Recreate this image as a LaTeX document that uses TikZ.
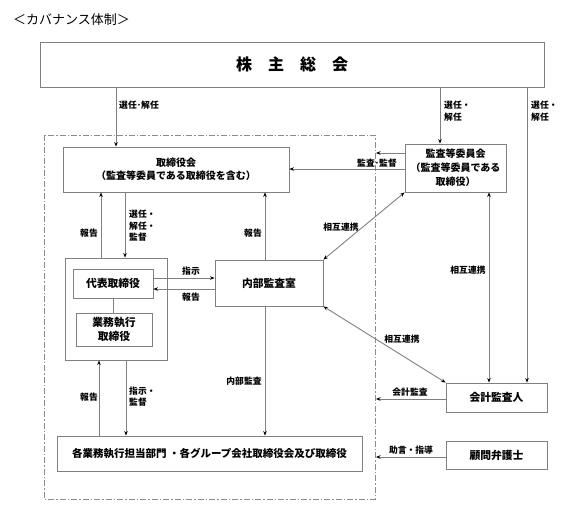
\documentclass[tikz,border=0pt]{standalone}
\usepackage{fontspec}
\setmainfont{Noto Sans CJK JP}
\usetikzlibrary{arrows.meta}
\begin{document}
\begin{tikzpicture}[x=1pt,y=-1pt,
  box/.style={draw=black!50,line width=0.9pt,inner sep=0,align=center,font=\fontsize{10.8}{13.5}\selectfont\bfseries},
  lab/.style={inner sep=0,align=left,font=\fontsize{8.8}{11.5}\selectfont\bfseries},
  conn/.style={draw=black!50,line width=0.9pt},
  tip/.tip={Stealth[length=4.5pt,width=3.6pt,color=black]},
  arr/.style={conn,-tip},
  darr/.style={conn,tip-tip},
  frame/.style={draw=black!45,line width=0.8pt,dash pattern=on 6pt off 2pt on 1.5pt off 2pt}
]
\useasboundingbox (0,0) rectangle (562,515);

\node[anchor=west,inner sep=0,font=\fontsize{13}{15}\selectfont] (title) at (13,20) {＜カバナンス体制＞};

% dashed company boundary
\draw[frame] (44,135) rectangle (375,499);

% boxes
\node[box,minimum width=504pt,minimum height=45pt,font=\fontsize{16}{18}\selectfont\bfseries] (sh) at (292,64.5) {株　主　総　会};
\node[box,minimum width=226pt,minimum height=45pt,font=\fontsize{10}{13}\selectfont\bfseries] (board) at (176,169.5) {取締役会\\（監査等委員である取締役を含む）};
\node[box,minimum width=101pt,minimum height=48pt,font=\fontsize{10}{14}\selectfont\bfseries] (acc) at (455.5,168) {監査等委員会\\（監査等委員である\\取締役）};
\node[box,minimum width=102pt,minimum height=102pt] (grp) at (116,309) {};
\node[box,minimum width=80pt,minimum height=29pt] (rep) at (113,283.5) {代表取締役};
\node[box,minimum width=76pt,minimum height=33pt] (exec) at (114,329.5) {業務執行\\取締役};
\node[box,minimum width=108pt,minimum height=46pt] (ia) at (269,283) {内部監査室};
\node[box,minimum width=101pt,minimum height=29pt] (aud) at (496.5,397.5) {会計監査人};
\node[box,minimum width=101pt,minimum height=28pt] (law) at (496.5,455) {顧問弁護士};
\node[box,minimum width=305pt,minimum height=35pt,font=\fontsize{10.5}{13}\selectfont\bfseries] (dep) at (209.5,453.5) {各業務執行担当部門 ・各グループ会社取締役会及び取締役};

% free ends on the boundary
\coordinate (b1) at (376,153);
\coordinate (b2) at (376,399);
\coordinate (b3) at (376,457);

% shareholders meeting
\draw[arr] (sh.south -| 116,0) -- (board.north -| 116,0);
\node[lab,anchor=west] (l1) at (119,105) {選任･解任};
\draw[arr] (sh.south -| 440,0) -- (acc.north -| 440,0);
\node[lab,anchor=west] (l2) at (444,111) {選任・\\解任};
\draw[arr] (sh.south -| 527,0) -- (aud.north -| 527,0);
\node[lab,anchor=west] (l3) at (531,111) {選任・\\解任};

% audit committee
\draw[arr] (acc.west |- b1) -- (b1);
\draw[arr] (acc.west |- 0,169) -- (board.east |- 0,169);
\node[lab] (l4) at (377,163) {監査･監督};

% board <-> group
\draw[arr] (grp.north -| 101,0) -- (board.south -| 101,0);
\node[lab] (l5) at (89,233) {報告};
\draw[arr] (board.south -| 125,0) -- (grp.north -| 125,0);
\node[lab,anchor=west] (l6) at (129,226) {選任・\\解任・\\監督};
\draw[arr] (ia.north -| 265,0) -- (board.south -| 265,0);
\node[lab] (l7) at (253,233) {報告};

% rep <-> internal audit
\draw[arr] (rep.east |- 0,278) -- (ia.west |- 0,278);
\node[lab] (l8) at (191,271) {指示};
\draw[arr] (ia.west |- 0,289) -- (rep.east |- 0,289);
\node[lab] (l9) at (191,297) {報告};
\draw[conn] (rep.south) -- (rep.south |- exec.north);

% mutual cooperation
\draw[darr] (ia.north east) -- (acc.south west);
\node[lab] (l10) at (341,227) {相互連携};
\draw[darr] (ia.south east) -- (aud.north west);
\node[lab] (l11) at (402,339) {相互連携};
\draw[darr] (acc.south -| 489,0) -- (aud.north -| 489,0);
\node[lab] (l12) at (468,270) {相互連携};

% auditor, lawyer
\draw[arr] (aud.west |- b2) -- (b2);
\node[lab] (l13) at (410,392) {会計監査};
\draw[arr] (law.west |- b3) -- (b3);
\node[lab] (l14) at (411,450) {助言・指導};

% group <-> departments
\draw[arr] (dep.north -| 99,0) -- (grp.south -| 99,0);
\node[lab] (l15) at (89,397) {報告};
\draw[arr] (grp.south -| 126,0) -- (dep.north -| 126,0);
\node[lab,anchor=west] (l16) at (129,396.5) {指示・\\監督};
\draw[arr] (ia.south -| 265,0) -- (dep.north -| 265,0);
\node[lab] (l17) at (244,381) {内部監査};
\end{tikzpicture}
\end{document}
